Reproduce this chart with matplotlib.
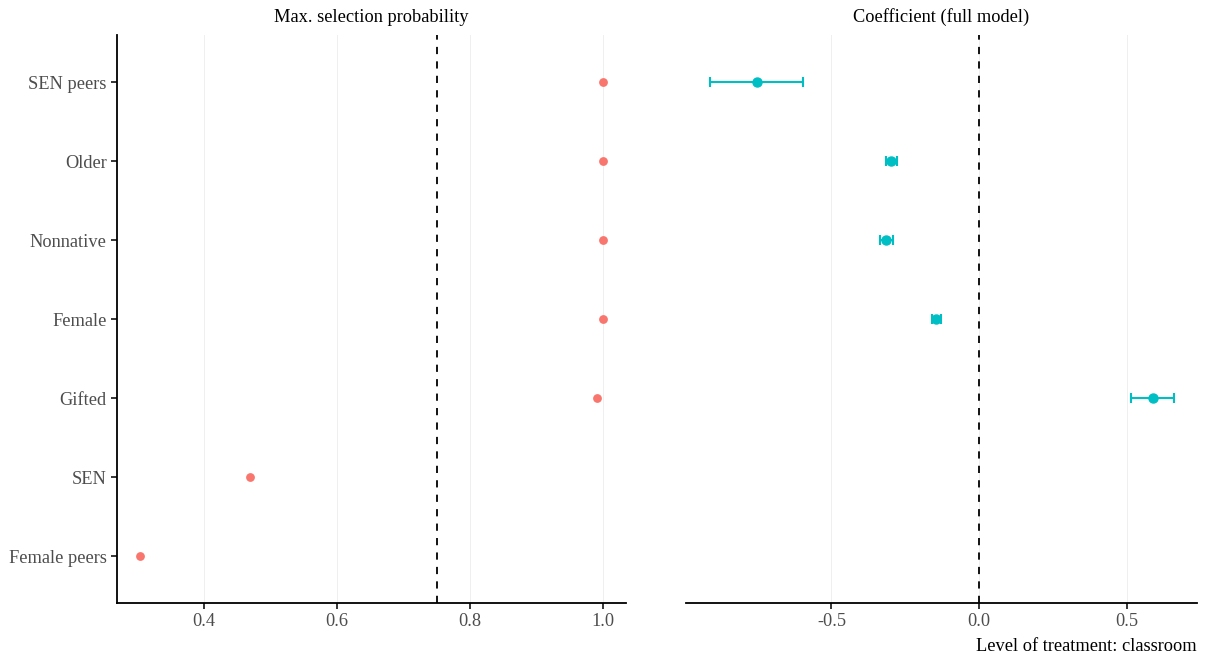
import numpy as np
import matplotlib.pyplot as plt

plt.rcParams['font.family'] = ['Liberation Serif', 'DejaVu Serif']

# categories, bottom to top
categories = ['Female peers', 'SEN', 'Gifted', 'Female', 'Nonnative', 'Older', 'SEN peers']

# left panel: max. selection probability
sel_prob = [0.304, 0.469, 0.991, 1.0, 1.0, 1.0, 1.0]

# right panel: coefficient (full model) with interval, NaN where not selected
coef = [np.nan, np.nan, 0.590, -0.146, -0.315, -0.298, -0.753]
coef_lo = [np.nan, np.nan, 0.515, -0.159, -0.336, -0.315, -0.912]
coef_hi = [np.nan, np.nan, 0.661, -0.129, -0.292, -0.278, -0.597]

red = '#F8766D'
cyan = '#00BFC4'
tick_col = '#4D4D4D'
fs = 13.2

fig = plt.figure(figsize=(12.05, 6.59), dpi=100)
ax1 = fig.add_axes([0.0971, 0.085, 0.4224, 0.862])
ax2 = fig.add_axes([0.5693, 0.085, 0.4241, 0.862])

ypos = np.arange(1, len(categories) + 1)

for ax in (ax1, ax2):
    ax.set_ylim(0.405, 7.6)
    ax.grid(axis='x', color='#EFEFEF', linewidth=0.7, zorder=0)
    ax.set_axisbelow(True)
    ax.spines['top'].set_visible(False)
    ax.spines['right'].set_visible(False)
    ax.spines['bottom'].set_linewidth(1.3)
    ax.spines['left'].set_linewidth(1.3)
    ax.tick_params(labelsize=fs, labelcolor=tick_col, width=1.1, length=4)

ax1.scatter(sel_prob, ypos, s=40, color=red, zorder=3, linewidths=0)
ax1.axvline(0.75, color='black', linestyle=(0, (4, 4)), linewidth=1.3, zorder=2)
ax1.set_xlim(0.269, 1.0346)
ax1.set_xticks([0.4, 0.6, 0.8, 1.0])
ax1.set_xticklabels(['0.4', '0.6', '0.8', '1.0'])
ax1.set_yticks(ypos)
ax1.set_yticklabels(categories)

coef = np.array(coef)
lo = np.array(coef_lo)
hi = np.array(coef_hi)
ok = ~np.isnan(coef)
ax2.errorbar(coef[ok], ypos[ok], xerr=[coef[ok] - lo[ok], hi[ok] - coef[ok]],
             fmt='o', color=cyan, ms=6.5, elinewidth=1.5, capsize=3.5,
             capthick=1.5, zorder=3)
ax2.axvline(0.0, color='black', linestyle=(0, (4, 4)), linewidth=1.3, zorder=2)
ax2.set_xlim(-0.993, 0.739)
ax2.set_xticks([-0.5, 0.0, 0.5])
ax2.set_xticklabels(['-0.5', '0.0', '0.5'])
ax2.set_yticks([])
ax2.spines['left'].set_visible(False)

ax1.set_title('Max. selection probability', fontsize=fs, pad=9)
ax2.set_title('Coefficient (full model)', fontsize=fs, pad=9)

fig.text(0.9934, 0.0125, 'Level of treatment: classroom', ha='right', va='baseline', fontsize=fs)

fig.savefig('out.png', dpi=100)
